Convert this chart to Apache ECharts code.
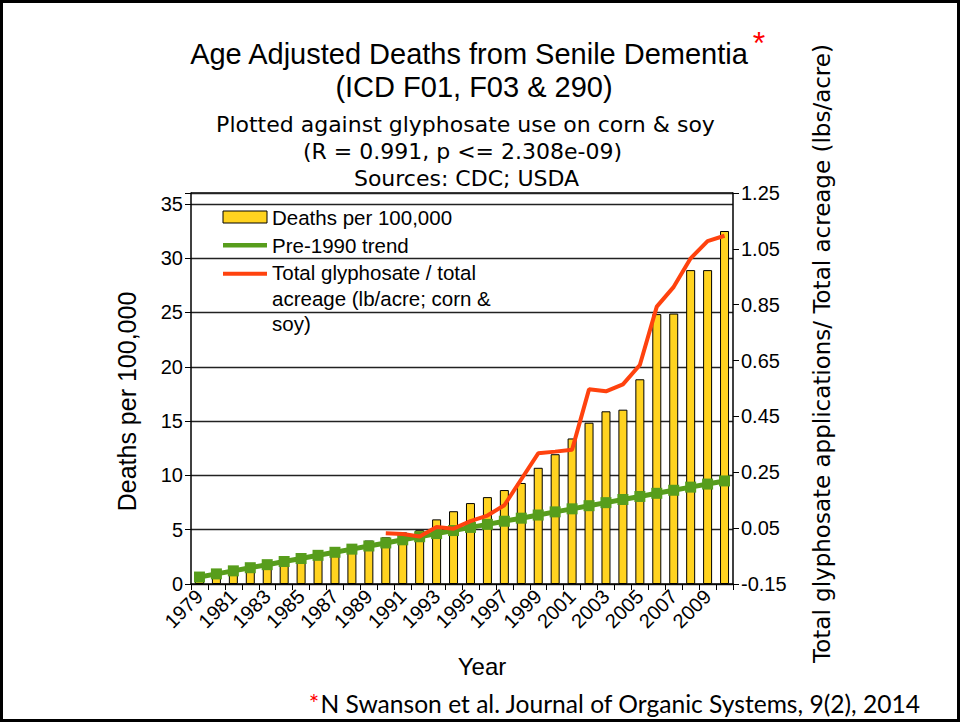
<!DOCTYPE html>
<html>
<head>
<meta charset="utf-8">
<script src="https://cdn.jsdelivr.net/npm/echarts@6/dist/echarts.min.js"></script>
<style>
  html, body { margin: 0; padding: 0; background: #fff; }
  #chart { width: 961px; height: 723px; }
</style>
</head>
<body>
<div id="chart"></div>
<script>
// Years on the category axis
const years = ['1979','1980','1981','1982','1983','1984','1985','1986','1987','1988',
  '1989','1990','1991','1992','1993','1994','1995','1996','1997','1998',
  '1999','2000','2001','2002','2003','2004','2005','2006','2007','2008',
  '2009','2010'];

// Age adjusted deaths per 100,000 (bars, left axis)
const deathsPer100k = [0.55, 0.75, 1.0, 1.25, 1.55, 1.85, 2.1, 2.4, 2.7, 3.0,
  4.0, 4.3, 4.75, 4.95, 5.95, 6.7, 7.45, 8.0, 8.65, 9.3,
  10.7, 11.95, 13.4, 14.85, 15.9, 16.05, 18.85, 24.85, 24.9, 28.9,
  28.9, 32.5];

// Pre-1990 linear trend (left axis)
const pre1990Trend = [0.64, 0.93, 1.21, 1.50, 1.78, 2.07, 2.35, 2.64, 2.92, 3.21,
  3.50, 3.78, 4.07, 4.35, 4.64, 4.92, 5.21, 5.49, 5.78, 6.06,
  6.35, 6.64, 6.92, 7.21, 7.49, 7.78, 8.06, 8.35, 8.63, 8.92,
  9.20, 9.49];

// Total glyphosate / total acreage, lb/acre on corn & soy (right axis)
const glyphosateLbPerAcre = [null, null, null, null, null, null, null, null, null, null,
  null, 0.032, 0.029, 0.020, 0.054, 0.048, 0.075, 0.095, 0.132, 0.225,
  0.318, 0.324, 0.331, 0.547, 0.540, 0.565, 0.634, 0.843, 0.914, 1.016,
  1.078, 1.097];

// Tick values of the two value axes
const leftTicks = [0, 5, 10, 15, 20, 25, 30, 35];
const rightTicks = [-0.15, 0.05, 0.25, 0.45, 0.65, 0.85, 1.05, 1.25];

const SANS = '"Liberation Sans", Arial, sans-serif';
const DEJAVU = '"DejaVu Sans", sans-serif';
const NOTE_FONT = 'Lato, sans-serif';
const YELLOW = '#FFD320';
const GREEN = '#579D1C';
const RED = '#FF420E';

const chart = echarts.init(document.getElementById('chart'), null, { renderer: 'svg' });

function txt(text, x, y, size, family, align, color) {
  return {
    type: 'text', x: x, y: y, silent: true,
    style: {
      text: text, fill: color || '#000',
      font: size + 'px ' + family,
      align: align || 'center', verticalAlign: 'middle'
    }
  };
}

const option = {
  animation: false,
  backgroundColor: '#fff',
  grid: { left: 191, right: 228, top: 193, bottom: 139, containLabel: false },
  xAxis: {
    type: 'category',
    data: years,
    boundaryGap: true,
    axisLine: { lineStyle: { color: '#000', width: 1.5 } },
    axisTick: { show: true, interval: 0, length: 6, lineStyle: { color: '#000', width: 1 } },
    axisLabel: { interval: 1, rotate: 45, margin: 9, color: '#000', fontSize: 20, fontFamily: SANS },
    name: 'Year',
    nameLocation: 'middle',
    nameGap: 70,
    nameTextStyle: { color: '#000', fontSize: 24, fontFamily: SANS, padding: [0, 0, 0, 40] }
  },
  yAxis: [
    {
      type: 'value',
      position: 'left',
      min: 0, max: 36, interval: 5,
      axisLine: { show: true, lineStyle: { color: '#000', width: 1.5 } },
      axisTick: { show: true, length: 6, lineStyle: { color: '#000', width: 1 } },
      axisLabel: {
        margin: 8, color: '#000', fontSize: 20, fontFamily: SANS,
        formatter: v => (leftTicks.indexOf(v) >= 0 ? String(v) : '')
      },
      splitLine: { show: true, lineStyle: { color: '#222', width: 1.3 } },
      name: 'Deaths per 100,000',
      nameLocation: 'middle',
      nameRotate: 90,
      nameGap: 52,
      nameTextStyle: { color: '#000', fontSize: 25, fontFamily: SANS, padding: [0, 26, 0, 0] }
    },
    {
      type: 'value',
      position: 'right',
      min: -0.15, max: 1.25,
      axisLine: { show: true, lineStyle: { color: '#000', width: 1.5 } },
      axisTick: { show: true, length: 6, customValues: rightTicks, lineStyle: { color: '#000', width: 1 } },
      axisLabel: {
        margin: 8, color: '#000', fontSize: 20, fontFamily: SANS,
        customValues: rightTicks,
        formatter: v => Number(v).toFixed(2)
      },
      splitLine: { show: false },
      name: 'Total glyphosate applications/ Total acreage (lbs/acre)',
      nameLocation: 'middle',
      nameRotate: 90,
      nameGap: 77,
      nameTextStyle: { color: '#000', fontSize: 23, fontFamily: DEJAVU, padding: [0, 0, 0, 70] }
    }
  ],
  series: [
    {
      name: 'Deaths per 100,000',
      type: 'bar',
      yAxisIndex: 0,
      data: deathsPer100k,
      barWidth: 9,
      itemStyle: { color: YELLOW, borderColor: '#000', borderWidth: 1 },
      z: 2
    },
    {
      name: 'Pre-1990 trend',
      type: 'line',
      yAxisIndex: 0,
      data: pre1990Trend,
      symbol: 'rect',
      symbolSize: 11,
      showSymbol: true,
      lineStyle: { color: GREEN, width: 5 },
      itemStyle: { color: GREEN },
      z: 3
    },
    {
      name: 'Total glyphosate / total acreage (lb/acre; corn & soy)',
      type: 'line',
      yAxisIndex: 1,
      data: glyphosateLbPerAcre,
      symbol: 'none',
      connectNulls: false,
      lineStyle: { color: RED, width: 4 },
      itemStyle: { color: RED },
      z: 4
    }
  ],
  graphic: [
    // outer frame
    { type: 'rect', silent: true, shape: { x: 1.5, y: 1.5, width: 957, height: 719 },
      style: { fill: 'none', stroke: '#000', lineWidth: 3 } },
    // plot frame top edge
    { type: 'line', silent: true, shape: { x1: 191, y1: 193, x2: 733, y2: 193 },
      style: { stroke: '#000', lineWidth: 1.5 } },
    // titles
    txt('Age Adjusted Deaths from Senile Dementia', 469, 54, 29, SANS),
    txt('*', 759, 43, 32, SANS, 'center', '#FF0000'),
    txt('(ICD F01, F03 & 290)', 474, 86.5, 29, SANS),
    txt('Plotted against glyphosate use on corn & soy', 465.5, 124.5, 22, DEJAVU),
    txt('(R = 0.991, p <= 2.308e-09)', 462.5, 151.5, 22, DEJAVU),
    txt('Sources: CDC; USDA', 466.5, 178.5, 22, DEJAVU),
    // legend
    { type: 'rect', silent: true, shape: { x: 223, y: 211, width: 44, height: 12 },
      style: { fill: YELLOW, stroke: '#000', lineWidth: 1 } },
    txt('Deaths per 100,000', 272, 217.5, 20.5, SANS, 'left'),
    { type: 'line', silent: true, shape: { x1: 223, y1: 245.3, x2: 267, y2: 245.3 },
      style: { stroke: GREEN, lineWidth: 4.5 } },
    txt('Pre-1990 trend', 272, 245, 20.5, SANS, 'left'),
    { type: 'line', silent: true, shape: { x1: 223, y1: 273.8, x2: 267, y2: 273.8 },
      style: { stroke: RED, lineWidth: 4 } },
    txt('Total glyphosate / total', 272, 272.5, 20.5, SANS, 'left'),
    txt('acreage (lb/acre; corn &', 272, 298, 20.5, SANS, 'left'),
    txt('soy)', 272, 323.5, 20.5, SANS, 'left'),
    // reference note
    {
      type: 'text', x: 920, y: 703, silent: true,
      style: {
        text: '{a|*}N Swanson et al. Journal of Organic Systems, 9(2), 2014',
        font: '24.6px ' + NOTE_FONT, fill: '#000',
        align: 'right', verticalAlign: 'middle',
        rich: { a: { fill: '#FF0000', font: '24.6px ' + NOTE_FONT } }
      }
    }
  ]
};

chart.setOption(option);
</script>
</body>
</html>
